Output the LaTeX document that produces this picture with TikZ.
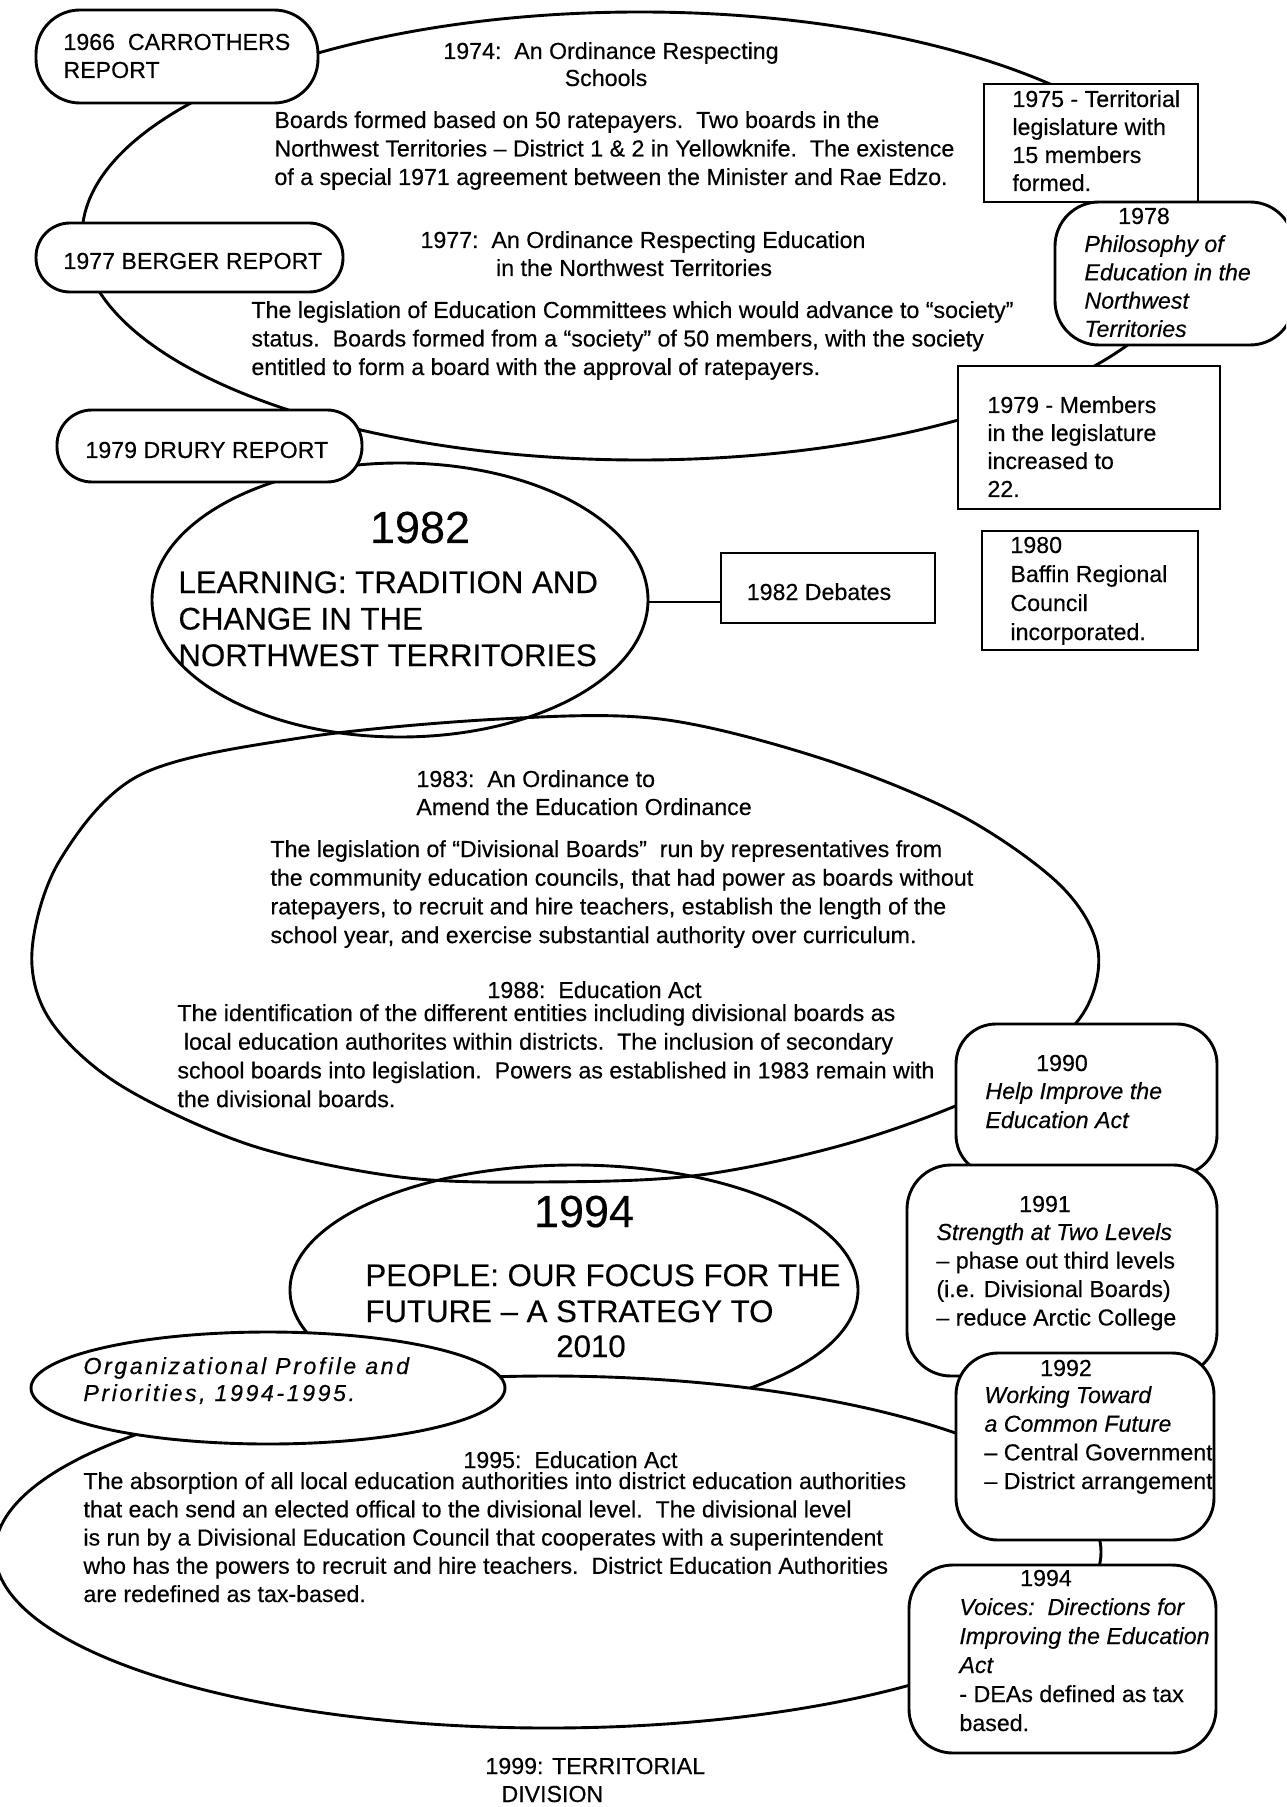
\documentclass[tikz,border=0pt]{standalone}
\usepackage{fontspec}
\setmainfont{Liberation Sans}[FakeBold=0.35]
\newfontfamily\orgfont[LetterSpace=11,FakeBold=0.35]{Liberation Sans}
\begin{document}
\begin{tikzpicture}[x=0.5pt,y=-0.5pt,
  line width=1.45pt,
  tx/.style={font=\fontsize{11.6}{14}\selectfont, inner sep=0pt, anchor=base west},
  ctx/.style={tx, anchor=base},
  itx/.style={font=\fontsize{11.6}{14}\selectfont\itshape, inner sep=0pt, anchor=base west},
  citx/.style={itx, anchor=base},
  hd/.style={font=\fontsize{15.6}{18}\selectfont, inner sep=0pt, anchor=base west},
  chd/.style={hd, anchor=base},
  bigyr/.style={font=\fontsize{22.5}{26}\selectfont, inner sep=0pt, anchor=base},
  orgtx/.style={font=\orgfont\itshape\fontsize{11.6}{14}\selectfont, inner sep=0pt, anchor=base west},
  shp/.style={draw=black, fill=white},
]
\useasboundingbox (0,0) rectangle (1286,1807);
\fill[white] (0,0) rectangle (1286,1807);
\clip (0,0) rectangle (1286,1807);

% ---------- ovals ----------
\draw (640,236) ellipse [x radius=279pt, y radius=112pt];
\draw (400,600) ellipse [x radius=124pt, y radius=68.5pt];
\draw plot[smooth cycle, tension=0.55] coordinates {
  (32,951) (60,860) (140,775) (300,738) (500,719) (660,719) (820,758)
  (960,815) (1060,885) (1098,950) (1080,1018) (1000,1085) (860,1140)
  (700,1175) (540,1182) (400,1177) (250,1145) (120,1085) (50,1020)};
\draw (574,1290) ellipse [x radius=142pt, y radius=62.5pt];
\draw[shp] (548,1552) ellipse [x radius=276.5pt, y radius=88pt];
\draw[shp] (268,1388) ellipse [x radius=118.5pt, y radius=28pt];

% ---------- side pills and boxes ----------
\draw[shp, rounded corners=22pt] (36,10) rectangle (318,103);
\draw[shp, rounded corners=17pt] (36,223) rectangle (343,292);
\draw[shp, rounded corners=17.5pt] (57,410) rectangle (362,482);
\draw[shp] (984,84) rectangle (1198,202);
\draw[shp, rounded corners=22pt] (1055,202) rectangle (1294,345);
\draw[shp] (958,366) rectangle (1220,509);
\draw[shp] (982,531) rectangle (1198,650);
\node[shp, minimum width=107pt, minimum height=35pt, inner sep=0pt] (deb) at (828,588) {};
\coordinate (e82r) at (648,602);
\draw (e82r) -- (e82r -| deb.west);
\draw[shp, rounded corners=20pt] (956,1024) rectangle (1217,1175);
\draw[shp, rounded corners=22pt] (907,1165) rectangle (1217,1376);
\draw[shp, rounded corners=21pt] (956,1353) rectangle (1214,1540);
\draw[shp, rounded corners=22pt] (909,1565) rectangle (1216,1753);

% ---------- texts: top oval ----------
\node[ctx] (t74a) at (611,59) {1974:~~An Ordinance Respecting};
\node[ctx] (t74b) at (606,86) {Schools};
\foreach \t [count=\i from 0] in {
  {Boards formed based on 50 ratepayers.~~Two boards in the},
  {Northwest Territories -- District 1 \& 2 in Yellowknife.~~The existence},
  {of a special 1971 agreement between the Minister and Rae Edzo.}}
  \node[tx] (b74-\i) at (273,{128+28.5*\i}) {\t};
\node[ctx] (t77a) at (643,248) {1977:~~An Ordinance Respecting Education};
\node[ctx] (t77b) at (634,276) {in the Northwest Territories};
\foreach \t [count=\i from 0] in {
  {The legislation of Education Committees which would advance to “society”},
  {status.~~Boards formed from a “society” of 50 members, with the society},
  {entitled to form a board with the approval of ratepayers.}}
  \node[tx] (b77-\i) at (250,{318+28.5*\i}) {\t};

% ---------- left pills ----------
\node[tx] (p66a) at (62,50) {1966~~CARROTHERS};
\node[tx] (p66b) at (62,78) {REPORT};
\node[tx] (p77) at (62,269) {1977 BERGER REPORT};
\node[tx] (p79) at (84,458) {1979 DRURY REPORT};

% ---------- right boxes ----------
\foreach \t [count=\i from 0] in {{1975 - Territorial},{legislature with},{15 members},{formed.}}
  \node[tx] (r75-\i) at (1011,{107+28*\i}) {\t};
\node[ctx] (r78y) at (1144,224) {1978};
\foreach \t [count=\i from 0] in {{Philosophy of},{Education in the},{Northwest},{Territories}}
  \node[itx] (r78-\i) at (1083,{252+28.3*\i}) {\t};
\foreach \t [count=\i from 0] in {{1979 - Members},{in the legislature},{increased to},{22.}}
  \node[tx] (r79-\i) at (986,{413+28*\i}) {\t};
\foreach \t [count=\i from 0] in {{1980},{Baffin Regional},{Council},{incorporated.}}
  \node[tx] (r80-\i) at (1009,{553+29*\i}) {\t};
\node[ctx] (debt) at (819,600) {1982 Debates};

% ---------- 1982 oval ----------
\node[bigyr] (y82) at (420,543) {1982};
\foreach \t [count=\i from 0] in {{LEARNING: TRADITION AND},{CHANGE IN THE},{NORTHWEST TERRITORIES}}
  \node[hd] (h82-\i) at (177,{593+36.5*\i}) {\t};

% ---------- 1983 oval ----------
\node[tx] (t83a) at (415,787) {1983:~~An Ordinance to};
\node[tx] (t83b) at (415,815) {Amend the Education Ordinance};
\foreach \t [count=\i from 0] in {
  {The legislation of “Divisional Boards”~~run by representatives from},
  {the community education councils, that had power as boards without},
  {ratepayers, to recruit and hire teachers, establish the length of the},
  {school year, and exercise substantial authority over curriculum.}}
  \node[tx] (b83-\i) at (269,{857+28.7*\i}) {\t};
\node[tx] (t88) at (486,998) {1988:~~Education Act};
\foreach \t [count=\i from 0] in {
  {The identification of the different entities including divisional boards as},
  {~local education authorites within districts.~~The inclusion of secondary},
  {school boards into legislation.~~Powers as established in 1983 remain with},
  {the divisional boards.}}
  \node[tx] (b88-\i) at (176,{1021+28.7*\i}) {\t};

% ---------- 1990 / 1991 ----------
\node[ctx] (r90y) at (1062,1071) {1990};
\node[itx] (r90a) at (984,1099) {Help Improve the};
\node[itx] (r90b) at (984,1128) {Education Act};
\node[ctx] (r91y) at (1045,1212) {1991};
\node[itx] (r91a) at (935,1240) {Strength at Two Levels};
\foreach \t [count=\i from 0] in {{-- phase out third levels},{(i.e. Divisional Boards)},{-- reduce Arctic College}}
  \node[tx] (r91-\i) at (935,{1268.5+28.5*\i}) {\t};

% ---------- 1994 oval ----------
\node[bigyr] (y94) at (584,1227) {1994};
\node[hd] (h94a) at (364,1286) {PEOPLE: OUR FOCUS FOR THE};
\node[hd] (h94b) at (364,1322) {FUTURE -- A STRATEGY TO};
\node[chd] (h94c) at (591,1357) {2010};

% ---------- organizational profile ----------
\node[orgtx] (org1) at (82,1374) {Organizational Profile and};
\node[orgtx] (org2) at (82,1401) {Priorities, 1994-1995.};

% ---------- 1992 / voices ----------
\begin{scope}
\clip (956,1353) rectangle (1212,1540);
\node[ctx] (r92y) at (1066,1376) {1992};
\node[itx] (r92a) at (983,1403) {Working Toward};
\node[itx] (r92b) at (983,1431.7) {a Common Future};
\node[tx] (r92c) at (983,1460.4) {-- Central Government};
\node[tx] (r92d) at (983,1489) {-- District arrangement};
\end{scope}
\begin{scope}
\clip (909,1565) rectangle (1214,1753);
\node[ctx] (r94y) at (1046,1586) {1994};
\node[itx] (r94a) at (958,1615) {Voices:~~Directions for};
\node[itx] (r94b) at (958,1644) {Improving the Education};
\node[itx] (r94c) at (958,1673) {Act};
\node[tx] (r94d) at (958,1702) {- DEAs defined as tax};
\node[tx] (r94e) at (958,1731) {based.};
\end{scope}

% ---------- 1995 oval ----------
\node[tx] (t95) at (462,1468) {1995:~~Education Act};
\foreach \t [count=\i from 0] in {
  {The absorption of all local education authorities into district education authorities},
  {that each send an elected offical to the divisional level.~~The divisional level},
  {is run by a Divisional Education Council that cooperates with a superintendent},
  {who has the powers to recruit and hire teachers.~~District Education Authorities},
  {are redefined as tax-based.}}
  \node[tx] (b95-\i) at (82,{1489+28.25*\i}) {\t};

% ---------- bottom ----------
\node[tx] (t99a) at (484,1774) {1999: TERRITORIAL};
\node[tx] (t99b) at (500,1802) {DIVISION};
\end{tikzpicture}
\end{document}
